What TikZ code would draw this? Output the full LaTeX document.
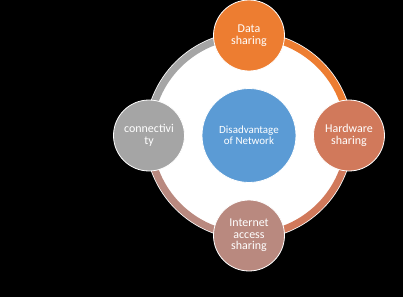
\documentclass[tikz,border=0pt]{standalone}
\usepackage{fontspec}
\setmainfont{Carlito}
\definecolor{orangeC}{HTML}{ED7D31}
\definecolor{grayC}{HTML}{A5A5A5}
\definecolor{blueC}{HTML}{5B9BD5}
\definecolor{hardC}{HTML}{D1795B}
\definecolor{netC}{HTML}{B9897F}
\begin{document}
\begin{tikzpicture}[x=1bp,y=1bp,
  sat/.style={circle, minimum size=71bp, inner sep=0pt, draw=white, line width=0.8bp,
    text=white, align=center, font=\fontsize{12}{11.5}\selectfont},
  hub/.style={circle, minimum size=94bp, inner sep=0pt, draw=white, line width=0.8bp,
    text=white, align=center, font=\fontsize{11}{11.5}\selectfont},
  band/.style={line width=7bp}]
\fill[black] (0,0) rectangle (403,297);
\useasboundingbox (0,0) rectangle (403,297);
\coordinate (c) at (249,161.5);
\fill[white] (c) circle (104.3);
\node[hub, fill=blueC] (hubn) at (c) {Disadvantage\\of Network};
\path (c) ++(90:100) coordinate (pt);
\path (c) ++(0:100) coordinate (pr);
\path (c) ++(270:100) coordinate (pb);
\path (c) ++(180:100) coordinate (pl);
\draw[band, grayC] (pl) arc (180:90:100);
\draw[band, orangeC] (pt) arc (90:0:100);
\draw[band, hardC] (pr) arc (360:270:100);
\draw[band, netC] (pb) arc (270:180:100);
\node[sat, fill=orangeC] (data) at (pt) {Data\\sharing};
\node[sat, fill=hardC] (hard) at (pr) {Hardware\\sharing};
\node[sat, fill=netC] (net) at (pb) {Internet\\access\\sharing};
\node[sat, fill=grayC] (conn) at (pl) {connectivi\\ty};
\end{tikzpicture}
\end{document}
